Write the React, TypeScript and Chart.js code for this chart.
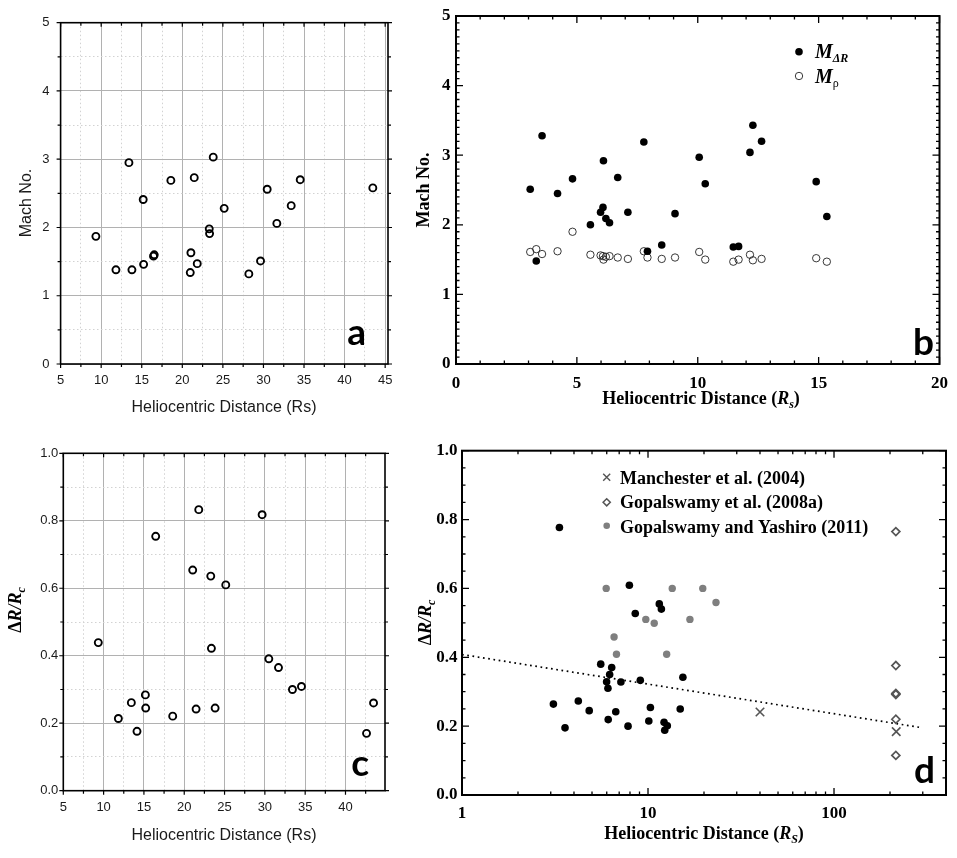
import { useEffect, useRef } from "react";
import { Chart, registerables, type ChartConfiguration, type Plugin } from "chart.js";

Chart.register(...registerables);

// ── panel a : Mach number vs distance (Origin style) ─────────────────────────
const A_DIST = [9.35, 11.82, 13.79, 13.42, 15.18, 15.23, 16.54, 16.45, 18.59, 21.06, 20.98, 21.47, 21.84, 23.32, 23.36, 23.81, 25.16, 28.2, 29.64, 30.46, 31.65, 33.42, 34.53, 43.48];
const A_MACH = [1.87, 1.38, 1.38, 2.95, 2.41, 1.46, 1.6, 1.58, 2.69, 1.63, 1.34, 2.73, 1.47, 1.98, 1.91, 3.03, 2.28, 1.32, 1.51, 2.56, 2.06, 2.32, 2.7, 2.58];
const A_X_MAJOR = [5, 10, 15, 20, 25, 30, 35, 40, 45];
const A_X_MINOR = [7.5, 12.5, 17.5, 22.5, 27.5, 32.5, 37.5, 42.5];
const A_Y_MAJOR = [0, 1, 2, 3, 4, 5];
const A_Y_MINOR = [0.5, 1.5, 2.5, 3.5, 4.5];

// ── panel c : standoff ratio vs distance ─────────────────────────────────────
const C_DIST = [9.34, 11.83, 13.44, 14.14, 15.18, 15.22, 16.46, 18.57, 21.05, 21.47, 21.8, 23.29, 23.37, 23.83, 25.15, 29.66, 30.49, 31.69, 33.42, 34.54, 42.61, 43.48];
const C_RATIO = [0.439, 0.214, 0.261, 0.176, 0.284, 0.245, 0.754, 0.221, 0.654, 0.242, 0.833, 0.636, 0.422, 0.245, 0.61, 0.818, 0.391, 0.365, 0.3, 0.309, 0.17, 0.26];
const C_X_MAJOR = [5, 10, 15, 20, 25, 30, 35, 40];
const C_X_MINOR = [7.5, 12.5, 17.5, 22.5, 27.5, 32.5, 37.5, 42.5];
const C_Y_MAJOR = [0, 0.2, 0.4, 0.6, 0.8, 1];
const C_Y_MINOR = [0.1, 0.3, 0.5, 0.7, 0.9];

// ── panel b : M_dR and M_rho (IDL style) ─────────────────────────────────────
const B_DIST = [3.07, 3.32, 3.56, 4.2, 4.82, 5.56, 5.98, 6.08, 6.1, 6.2, 6.35, 6.69, 7.11, 7.77, 7.92, 8.51, 9.06, 10.06, 10.31, 11.47, 11.69, 12.16, 12.28, 12.64, 14.9, 15.34];
const B_M_DR = [2.51, 1.48, 3.28, 2.45, 2.66, 2.0, 2.18, 2.25, 2.92, 2.09, 2.03, 2.68, 2.18, 3.19, 1.62, 1.71, 2.16, 2.97, 2.59, 1.68, 1.69, 3.04, 3.43, 3.2, 2.62, 2.12];
const B_M_RHO = [1.61, 1.65, 1.58, 1.62, 1.9, 1.57, 1.56, 1.55, 1.5, 1.54, 1.55, 1.53, 1.51, 1.62, 1.53, 1.51, 1.53, 1.61, 1.5, 1.47, 1.5, 1.57, 1.49, 1.51, 1.52, 1.47];
const B_X_MAJOR = [0, 5, 10, 15, 20];
const B_X_MINOR = [1, 2, 3, 4, 6, 7, 8, 9, 11, 12, 13, 14, 16, 17, 18, 19];
const B_Y_MAJOR = [0, 1, 2, 3, 4, 5];
const B_Y_MINOR = [
  0.1, 0.2, 0.3, 0.4, 0.5, 0.6, 0.7, 0.8, 0.9,
  1.1, 1.2, 1.3, 1.4, 1.5, 1.6, 1.7, 1.8, 1.9,
  2.1, 2.2, 2.3, 2.4, 2.5, 2.6, 2.7, 2.8, 2.9,
  3.1, 3.2, 3.3, 3.4, 3.5, 3.6, 3.7, 3.8, 3.9,
  4.1, 4.2, 4.3, 4.4, 4.5, 4.6, 4.7, 4.8, 4.9,
];

// ── panel d : ratio vs distance, log axis, with literature values ────────────
const D_DIST = [3.34, 3.1, 3.58, 4.22, 4.83, 5.57, 5.99, 6.09, 6.22, 6.38, 6.11, 6.71, 7.15, 7.81, 7.94, 8.54, 9.09, 10.1, 10.3, 11.5, 11.8, 12.2, 12.3, 12.7, 14.9, 15.4];
const D_RATIO = [0.777, 0.264, 0.195, 0.273, 0.245, 0.38, 0.329, 0.31, 0.35, 0.37, 0.219, 0.242, 0.328, 0.2, 0.609, 0.527, 0.333, 0.215, 0.254, 0.555, 0.54, 0.211, 0.188, 0.201, 0.25, 0.342];
const GY_DIST = [5.96, 6.57, 6.77, 9.73, 10.8, 12.6, 13.5, 16.8, 19.7, 23.2];
const GY_RATIO = [0.6, 0.459, 0.409, 0.51, 0.499, 0.409, 0.6, 0.51, 0.6, 0.559];
const MAN_DIST = [40, 216];
const MAN_RATIO = [0.241, 0.184];
const GOP_DIST = [215, 215, 215, 215, 215, 215];
const GOP_RATIO = [0.765, 0.376, 0.295, 0.292, 0.22, 0.115];
const FIT_DIST = [1, 292];
const FIT_RATIO = [0.408, 0.196];
const D_X_MAJOR = [1, 10, 100];
const D_X_MINOR = [2, 3, 4, 5, 6, 7, 8, 9, 20, 30, 40, 50, 60, 70, 80, 90, 200, 300];
const D_Y_MAJOR = [0, 0.2, 0.4, 0.6, 0.8, 1];
const D_Y_MINOR = [0.05, 0.1, 0.15, 0.25, 0.3, 0.35, 0.45, 0.5, 0.55, 0.65, 0.7, 0.75, 0.85, 0.9, 0.95];

// ── fonts ─────────────────────────────────────────────────────────────────────
const SANS = '"Liberation Sans", Arial, sans-serif';
const SERIF = '"Liberation Serif", "Times New Roman", serif';
const LETTER = 'Lato, "Open Sans", sans-serif';

const zip = (xs: number[], ys: number[]) => xs.map((x, i) => ({ x, y: ys[i] }));

// ── overlay plugin: titles with sub-scripts, legends, panel letters ──────────
type Run = { t: string; font: string; dy?: number };
type Label = { x: number; y: number; runs: Run[]; rot?: boolean; align?: "left" | "center" | "right"; color?: string };
type Mark = { x: number; y: number; kind: "cross" | "diamond" | "dot" | "ring"; r: number; color: string; lw?: number };

function overlay(labels: Label[], marks: Mark[] = []): Plugin {
  return {
    id: "overlay",
    afterDraw(chart) {
      const ctx = chart.ctx;
      ctx.save();
      marks.forEach((m) => {
        ctx.beginPath();
        ctx.strokeStyle = m.color;
        ctx.fillStyle = m.color;
        ctx.lineWidth = m.lw ?? 1.5;
        if (m.kind === "cross") {
          ctx.moveTo(m.x - m.r, m.y - m.r); ctx.lineTo(m.x + m.r, m.y + m.r);
          ctx.moveTo(m.x + m.r, m.y - m.r); ctx.lineTo(m.x - m.r, m.y + m.r);
          ctx.stroke();
        } else if (m.kind === "diamond") {
          ctx.moveTo(m.x, m.y - m.r); ctx.lineTo(m.x + m.r, m.y);
          ctx.lineTo(m.x, m.y + m.r); ctx.lineTo(m.x - m.r, m.y);
          ctx.closePath(); ctx.stroke();
        } else {
          ctx.arc(m.x, m.y, m.r, 0, Math.PI * 2);
          if (m.kind === "ring") ctx.stroke(); else ctx.fill();
        }
      });
      labels.forEach((l) => {
        ctx.save();
        ctx.translate(l.x, l.y);
        if (l.rot) ctx.rotate(-Math.PI / 2);
        ctx.fillStyle = l.color ?? "#000";
        ctx.textAlign = "left";
        ctx.textBaseline = "alphabetic";
        const widths = l.runs.map((r) => { ctx.font = r.font; return ctx.measureText(r.t).width; });
        const total = widths.reduce((a, b) => a + b, 0);
        let x = l.align === "center" ? -total / 2 : l.align === "right" ? -total : 0;
        l.runs.forEach((r, i) => { ctx.font = r.font; ctx.fillText(r.t, x, r.dy ?? 0); x += widths[i]; });
        ctx.restore();
      });
      ctx.restore();
    },
  };
}

// ── frame plugin: box + major/minor tick marks on all four sides ─────────────
type Frame = {
  xMajor: number[]; xMinor: number[]; yMajor: number[]; yMinor: number[];
  major: number; minor: number; width: number; tickWidth: number; origin: boolean;
};

function frame(f: Frame): Plugin {
  return {
    id: "frame",
    afterDraw(chart) {
      const { ctx, chartArea: a } = chart;
      const xs = chart.scales.x;
      const ys = chart.scales.y;
      ctx.save();
      ctx.strokeStyle = "#000";
      ctx.lineWidth = f.tickWidth;
      ctx.beginPath();
      const vt = (vals: number[], len: number, y0: number, dir: number) =>
        vals.forEach((v) => { const p = xs.getPixelForValue(v); ctx.moveTo(p, y0); ctx.lineTo(p, y0 + dir * len); });
      const ht = (vals: number[], len: number, x0: number, dir: number) =>
        vals.forEach((v) => { const p = ys.getPixelForValue(v); ctx.moveTo(x0, p); ctx.lineTo(x0 + dir * len, p); });
      const bottom = f.origin ? 1 : -1;
      const left = f.origin ? -1 : 1;
      vt(f.xMajor, f.major, a.bottom, bottom); vt(f.xMinor, f.minor, a.bottom, bottom);
      vt(f.xMajor, f.major, a.top, 1); vt(f.xMinor, f.minor, a.top, 1);
      ht(f.yMajor, f.major, a.left, left); ht(f.yMinor, f.minor, a.left, left);
      ht(f.yMajor, f.major, a.right, f.origin ? 1 : -1); ht(f.yMinor, f.minor, a.right, f.origin ? 1 : -1);
      ctx.stroke();
      ctx.lineWidth = f.width;
      ctx.strokeRect(a.left, a.top, a.right - a.left, a.bottom - a.top);
      ctx.restore();
    },
  };
}

// ── axis helper ───────────────────────────────────────────────────────────────
type AxisOpts = {
  type?: "linear" | "logarithmic"; min: number; max: number;
  major: number[]; minor?: number[]; fmt: (v: number) => string;
  size: number; horizontal: boolean; pad: number; font: any; color: string; grid: boolean;
};

function axis(o: AxisOpts) {
  const all = [...o.major, ...(o.minor ?? [])].sort((p, q) => p - q);
  const isMajor = (c: any) => o.major.includes(c?.tick?.value);
  return {
    type: o.type ?? "linear",
    min: o.min,
    max: o.max,
    afterBuildTicks: (s: any) => { s.ticks = all.map((value) => ({ value })); },
    afterFit: (s: any) => { if (o.horizontal) s.height = o.size; else s.width = o.size; },
    ticks: {
      autoSkip: false, maxRotation: 0, minRotation: 0, padding: o.pad, font: o.font, color: o.color,
      callback: (v: any) => (o.major.includes(Number(v)) ? o.fmt(Number(v)) : ""),
    },
    grid: o.grid
      ? { drawTicks: false, lineWidth: 1, color: (c: any) => (isMajor(c) ? "#b1b1b1" : "#d2d2d2") }
      : { display: false, drawTicks: false },
    border: { display: false, dash: (c: any) => (isMajor(c) ? [] : [1.5, 2.5]) },
  };
}

function base(padding: any, x: any, y: any): any {
  return {
    responsive: true,
    maintainAspectRatio: false,
    animation: false,
    events: [],
    layout: { padding },
    plugins: { legend: { display: false }, tooltip: { enabled: false } },
    scales: { x, y },
  };
}

const ORIGIN_TICK = { family: SANS, size: 13 };
const IDL_TICK = { family: SERIF, size: 17, weight: "bold" };
const OPEN = { pointStyle: "circle", pointRadius: 3.5, pointBorderWidth: 1.9, pointBorderColor: "#000", pointBackgroundColor: "rgba(0,0,0,0)" };
const int = (v: number) => String(v);
const dec = (v: number) => v.toFixed(1);

const B18 = `bold 18px ${SERIF}`;
const BI18 = `italic bold 18px ${SERIF}`;
const BI12 = `italic bold 12px ${SERIF}`;
const LEG = `bold 18px ${SERIF}`;
const RATIO_TITLE: Run[] = [
  { t: "Δ", font: B18 },
  { t: "R/R", font: BI18 },
  { t: "c", font: BI12, dy: 4 },
];

const makeA = (): ChartConfiguration<"scatter"> => ({
  type: "scatter",
  data: { datasets: [{ data: zip(A_DIST, A_MACH), ...OPEN } as any] },
  options: base(
    { top: 22.7, right: 22, left: 0, bottom: 0 },
    axis({ min: 5, max: 45.35, major: A_X_MAJOR, minor: A_X_MINOR, fmt: int, size: 56, horizontal: true, pad: 8.5, font: ORIGIN_TICK, color: "#1a1a1a", grid: true }),
    axis({ min: 0, max: 5, major: A_Y_MAJOR, minor: A_Y_MINOR, fmt: int, size: 60.6, horizontal: false, pad: 11, font: ORIGIN_TICK, color: "#1a1a1a", grid: true }),
  ),
  plugins: [
    frame({ xMajor: A_X_MAJOR, xMinor: A_X_MINOR, yMajor: A_Y_MAJOR, yMinor: A_Y_MINOR, major: 4, minor: 3, width: 1.6, tickWidth: 1.2, origin: true }),
    overlay([
      { x: 30.7, y: 203, rot: true, align: "center", color: "#1a1a1a", runs: [{ t: "Mach No.", font: `16px ${SANS}` }] },
      { x: 224, y: 411.5, align: "center", color: "#1a1a1a", runs: [{ t: "Heliocentric Distance (Rs)", font: `16px ${SANS}` }] },
      { x: 366, y: 345, align: "right", runs: [{ t: "a", font: `bold 37px ${LETTER}` }] },
    ]),
  ],
});

const makeC = (): ChartConfiguration<"scatter"> => ({
  type: "scatter",
  data: { datasets: [{ data: zip(C_DIST, C_RATIO), ...OPEN } as any] },
  options: base(
    { top: 33.3, right: 25, left: 0, bottom: 0 },
    axis({ min: 5, max: 44.9, major: C_X_MAJOR, minor: C_X_MINOR, fmt: int, size: 67.3, horizontal: true, pad: 8.5, font: ORIGIN_TICK, color: "#1a1a1a", grid: true }),
    axis({ min: 0, max: 1, major: C_Y_MAJOR, minor: C_Y_MINOR, fmt: dec, size: 63.3, horizontal: false, pad: 5, font: ORIGIN_TICK, color: "#1a1a1a", grid: true }),
  ),
  plugins: [
    frame({ xMajor: C_X_MAJOR, xMinor: C_X_MINOR, yMajor: C_Y_MAJOR, yMinor: C_Y_MINOR, major: 4, minor: 3, width: 1.6, tickWidth: 1.2, origin: true }),
    overlay([
      { x: 21, y: 190, rot: true, align: "center", runs: RATIO_TITLE },
      { x: 224, y: 420, align: "center", color: "#1a1a1a", runs: [{ t: "Heliocentric Distance (Rs)", font: `16px ${SANS}` }] },
      { x: 369, y: 356, align: "right", runs: [{ t: "c", font: `bold 37px ${LETTER}` }] },
    ]),
  ],
});

const makeB = (): ChartConfiguration<"scatter"> => ({
  type: "scatter",
  data: {
    datasets: [
      { data: zip(B_DIST, B_M_DR), pointStyle: "circle", pointRadius: 3.8, pointBorderWidth: 0, pointBackgroundColor: "#000" } as any,
      { data: zip(B_DIST, B_M_RHO), pointStyle: "circle", pointRadius: 3.7, pointBorderWidth: 0.9, pointBorderColor: "#222", pointBackgroundColor: "rgba(0,0,0,0)" } as any,
    ],
  },
  options: base(
    { top: 16, right: 11, left: 0, bottom: 0 },
    axis({ min: 0, max: 20, major: B_X_MAJOR, fmt: int, size: 56, horizontal: true, pad: 9, font: IDL_TICK, color: "#000", grid: false }),
    axis({ min: 0, max: 5, major: B_Y_MAJOR, fmt: int, size: 46, horizontal: false, pad: 5.5, font: IDL_TICK, color: "#000", grid: false }),
  ),
  plugins: [
    frame({ xMajor: B_X_MAJOR, xMinor: B_X_MINOR, yMajor: B_Y_MAJOR, yMinor: B_Y_MINOR, major: 7, minor: 3.5, width: 2, tickWidth: 1.3, origin: false }),
    overlay(
      [
        { x: 19, y: 190, rot: true, align: "center", runs: [{ t: "Mach No.", font: B18 }] },
        {
          x: 291, y: 404, align: "center",
          runs: [
            { t: "Heliocentric Distance (", font: B18 },
            { t: "R", font: BI18 },
            { t: "s", font: BI12, dy: 4 },
            { t: ")", font: B18 },
          ],
        },
        { x: 405, y: 58, runs: [{ t: "M", font: `italic bold 20px ${SERIF}` }, { t: "ΔR", font: BI12, dy: 4 }] },
        { x: 405, y: 83, runs: [{ t: "M", font: `italic bold 20px ${SERIF}` }, { t: "ρ", font: `12px ${SERIF}`, dy: 4 }] },
        { x: 524, y: 355, align: "right", runs: [{ t: "b", font: `bold 37px ${LETTER}` }] },
      ],
      [
        { x: 389, y: 51.7, kind: "dot", r: 3.8, color: "#000" },
        { x: 389, y: 76, kind: "ring", r: 3.7, color: "#222", lw: 0.9 },
      ],
    ),
  ],
});

const makeD = (): ChartConfiguration<"scatter"> => ({
  type: "scatter",
  data: {
    datasets: [
      { data: zip(D_DIST, D_RATIO), pointStyle: "circle", pointRadius: 3.8, pointBorderWidth: 0, pointBackgroundColor: "#000" } as any,
      { data: zip(GY_DIST, GY_RATIO), pointStyle: "circle", pointRadius: 3.7, pointBorderWidth: 0, pointBackgroundColor: "#7f7f7f" } as any,
      { data: zip(MAN_DIST, MAN_RATIO), pointStyle: "crossRot", pointRadius: 6, pointBorderWidth: 1.6, pointBorderColor: "#555" } as any,
      { data: zip(GOP_DIST, GOP_RATIO), pointStyle: "rectRot", pointRadius: 4, pointBorderWidth: 1.7, pointBorderColor: "#555", pointBackgroundColor: "rgba(0,0,0,0)" } as any,
      { data: zip(FIT_DIST, FIT_RATIO), showLine: true, borderColor: "#000", borderWidth: 1.7, borderDash: [1.7, 3.6], pointRadius: 0 } as any,
    ],
  },
  options: base(
    { top: 30.7, right: 11, left: 0, bottom: 0 },
    axis({ type: "logarithmic", min: 1, max: 400, major: D_X_MAJOR, fmt: int, size: 63, horizontal: true, pad: 8.6, font: IDL_TICK, color: "#000", grid: false }),
    axis({ min: 0, max: 1, major: D_Y_MAJOR, fmt: dec, size: 52, horizontal: false, pad: 4.4, font: IDL_TICK, color: "#000", grid: false }),
  ),
  plugins: [
    frame({ xMajor: D_X_MAJOR, xMinor: D_X_MINOR, yMajor: D_Y_MAJOR, yMinor: D_Y_MINOR, major: 7, minor: 3.5, width: 2, tickWidth: 1.3, origin: false }),
    overlay(
      [
        { x: 21, y: 202.5, rot: true, align: "center", runs: RATIO_TITLE },
        {
          x: 294, y: 419.3, align: "center",
          runs: [
            { t: "Heliocentric Distance (", font: B18 },
            { t: "R", font: BI18 },
            { t: "S", font: BI12, dy: 4 },
            { t: ")", font: B18 },
          ],
        },
        { x: 210, y: 64, runs: [{ t: "Manchester et al. (2004)", font: LEG }] },
        { x: 210, y: 88.3, runs: [{ t: "Gopalswamy et al. (2008a)", font: LEG }] },
        { x: 210, y: 112.5, runs: [{ t: "Gopalswamy and Yashiro (2011)", font: LEG }] },
        { x: 525, y: 363.3, align: "right", runs: [{ t: "d", font: `bold 37px ${LETTER}` }] },
      ],
      [
        { x: 196.7, y: 57.3, kind: "cross", r: 3.5, color: "#555", lw: 1.4 },
        { x: 196.7, y: 82.3, kind: "diamond", r: 3.6, color: "#555", lw: 1.5 },
        { x: 196.7, y: 105.7, kind: "dot", r: 3.3, color: "#7f7f7f" },
      ],
    ),
  ],
});

type Box = { left: number; top: number; w: number; h: number };

function Panel({ box, make }: { box: Box; make: () => ChartConfiguration<"scatter"> }) {
  const ref = useRef<HTMLCanvasElement>(null);
  useEffect(() => {
    if (!ref.current) return;
    const chart = new Chart(ref.current, make());
    return () => chart.destroy();
  }, [make]);
  return (
    <div style={{ position: "absolute", left: box.left, top: box.top, width: box.w, height: box.h }}>
      <canvas ref={ref} />
    </div>
  );
}

export default function App() {
  return (
    <div style={{ position: "fixed", left: 0, top: 0, width: 957, height: 858, background: "#fff", overflow: "hidden" }}>
      <Panel box={{ left: 0, top: 0, w: 410, h: 420 }} make={makeA} />
      <Panel box={{ left: 410, top: 0, w: 547, h: 420 }} make={makeB} />
      <Panel box={{ left: 0, top: 420, w: 410, h: 438 }} make={makeC} />
      <Panel box={{ left: 410, top: 420, w: 547, h: 438 }} make={makeD} />
    </div>
  );
}
